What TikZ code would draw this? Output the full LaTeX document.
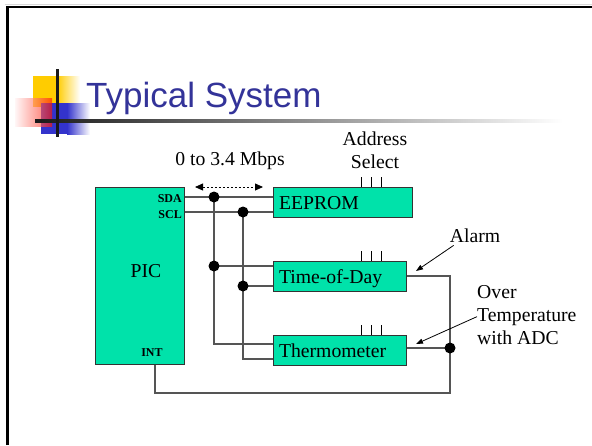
\documentclass[tikz,border=0pt]{standalone}
\usepackage{fontspec}
\setmainfont{Liberation Serif}
\newfontfamily\titlefont{Liberation Sans}
\usetikzlibrary{arrows.meta,calc}
\definecolor{boxgreen}{RGB}{0,226,170}
\definecolor{titleblue}{RGB}{51,51,153}
\definecolor{logoyellow}{RGB}{255,204,0}
\definecolor{logoblue}{RGB}{51,51,204}
\definecolor{wirecol}{RGB}{85,85,85}
\begin{document}
\begin{tikzpicture}[x=1pt,y=-1pt,
  chip/.style={draw=black!80, line width=1pt, fill=boxgreen, inner sep=0pt,
    font=\fontsize{19.7}{23}\selectfont},
  chiptext/.style={chip, minimum height=30pt, align=left, text height=14pt, text depth=0pt},
  txt/.style={inner sep=0pt, font=\fontsize{19.7}{23}\selectfont},
  pinlabel/.style={inner sep=0pt, font=\fontsize{12}{14}\selectfont\bfseries},
  wire/.style={draw=wirecol, line width=1.2pt},
  junction/.style={fill=black},
  pointer/.style={draw=black, line width=0.8pt, -{Triangle[length=7pt,width=5pt]}},
  rate/.style={draw=black, line width=0.8pt, dash pattern=on 2.5pt off 1.5pt,
    {Triangle[length=8pt,width=7pt]}-{Triangle[length=8pt,width=7pt]}}
]
\useasboundingbox (0,0) rectangle (592,445);
\fill[white] (0,0) rectangle (592,445);
% slide border
\draw[black!15, line width=0.8pt] (5,4) -- (592,4);
\draw[line width=2.5pt] (7.5,445) -- (7.5,7) -- (592,7);
% logo
\fill[logoyellow] (33,76) rectangle (57,107);
\shade[left color=logoyellow, right color=white] (57,76) rectangle (80,107);
\fill[logoblue] (41,103) rectangle (67,134);
\shade[left color=logoblue, right color=white] (67,103) rectangle (90,134);
\shade[left color=red!5, right color=red!85!orange, opacity=0.65] (15,98) rectangle (52,126);
\shade[left color=black!90, right color=white] (35,119.7) rectangle (563,122.3);
\fill[black!90] (56,69) rectangle (58.7,137);
% title
\node[anchor=base west, inner sep=0pt, font=\titlefont\fontsize{35}{40}\selectfont, text=titleblue]
  (title) at (86,107.7) {Typical System};

% boxes
\node[chip, minimum width=89pt, minimum height=177pt] (pic) at (139.5,275.5) {};
\node[txt] (piclabel) at (146,271.5) {PIC};
\node[chiptext, minimum width=139pt, text width=127pt] (eeprom) at (342.5,202) {EEPROM};
\node[chiptext, minimum width=133pt, text width=121pt] (tod) at (339.5,276) {Time-of-Day};
\node[chiptext, minimum width=133pt, text width=121pt] (therm) at (339.5,350) {Thermometer};

% pin labels
\node[pinlabel, anchor=base east] (sdalabel) at (182,202.5) {SDA};
\node[pinlabel, anchor=base east] (scllabel) at (182,218.5) {SCL};
\node[pinlabel, anchor=base] (intlabel) at (152,356) {INT};

% junctions and corners
\coordinate (j1) at (214,197);
\coordinate (j2) at (243,212);
\coordinate (j3) at (214,266);
\coordinate (j4) at (243,286);
\coordinate (c1) at (214,344);
\coordinate (c2) at (243,359);
\coordinate (r1) at (450,276);
\coordinate (r2) at (450,348);
\coordinate (r3) at (450,393);
\coordinate (ic) at (155,393);

% bus wires
\draw[wire] (j1 -| pic.east) -- (j1 -| eeprom.west);
\draw[wire] (j2 -| pic.east) -- (j2 -| eeprom.west);
\draw[wire] (j1) -- (c1) -- (c1 -| therm.west);
\draw[wire] (j3) -- (j3 -| tod.west);
\draw[wire] (j2) -- (c2) -- (c2 -| therm.west);
\draw[wire] (j4) -- (j4 -| tod.west);
\draw[wire] (r1 -| tod.east) -- (r1) -- (r3) -- (ic) -- (ic |- pic.south);
\draw[wire] (r2 -| therm.east) -- (r2);
\foreach \j in {j1,j2,j3,j4,r2} \fill[junction] (\j) circle (5.5pt);

% address select pins
\foreach \b in {eeprom,tod,therm}
  \foreach \dx in {89,99,109}
    \draw[black, line width=0.8pt] ([xshift=\dx pt]\b.north west) -- ++(0,-10);

% data rate
\coordinate (ra) at (195,187);
\coordinate (rb) at (263,187);
\draw[rate] (ra) -- (rb);
\node[txt, anchor=base] (mbps) at (230,165) {0 to 3.4 Mbps};

% address select label
\node[txt, anchor=base] (addr) at (375,145) {Address};
\node[txt, anchor=base] (sel) at (375,168) {Select};

% alarm
\node[txt, anchor=base] (alarm) at (475,242) {Alarm};
\coordinate (alarmtip) at (416,271);
\draw[pointer] (alarm.south west) ++(4,3) -- (alarmtip);

% over temperature
\node[txt, anchor=base west] (over) at (477,298) {Over};
\node[txt, anchor=base west] (temp) at (477,321) {Temperature};
\node[txt, anchor=base west] (adc) at (477,344) {with ADC};
\coordinate (temptip) at (416,344);
\draw[pointer] (temp.west) -- (temptip);
\end{tikzpicture}
\end{document}
